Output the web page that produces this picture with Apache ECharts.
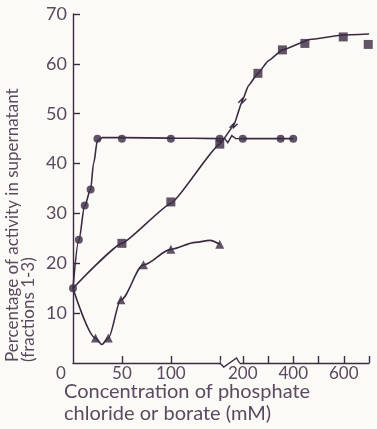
<!DOCTYPE html>
<html>
<head>
<meta charset="utf-8">
<script src="https://cdn.jsdelivr.net/npm/echarts@6/dist/echarts.min.js"></script>
<style>
  html, body { margin: 0; padding: 0; background: #fcfaf6; }
  #chart { width: 377px; height: 429px; }
</style>
</head>
<body>
<div id="chart"></div>
<script>
// values: concentration in mM, activity in %
const circleConc = [0, 6, 12, 18, 25, 50, 100, 150, 200, 350, 400];
const circlePct = [15, 24.7, 31.6, 34.8, 45, 45, 45, 45, 45, 45, 45];
const squareConc = [50, 100, 150, 260, 357, 446, 598, 697];
const squarePct = [24, 32.3, 43.9, 58.1, 62.8, 64.1, 65.4, 63.9];
const triangleConc = [23, 36, 49, 72, 100, 150];
const trianglePct = [5, 5, 12.7, 19.7, 22.8, 23.8];

// the hand drawn curves, traced (null = line broken at the axis break)
const circleCurveConc = [0, 6, 12, 18, 21, 25, 30, 50, 100, 150, 175, 200, 400];
const circleCurvePct = [15, 24.7, 31.6, 34.8, 40, 44.6, 45.2, 45.2, 45.1, 45, null, 45, 45];
const squareCurveConc = [0, 50, 100, 150, 180, 199, 222, 260, 301, 357, 466, 598, 700];
const squareCurvePct = [15, 24, 32, 43.9, 47.6, 52.6, 55.6, 58.1, 60.6, 62.8, 64.9, 65.8, 66];
const triangleCurveConc = [0, 23, 29.5, 36, 49, 72, 100, 125, 140, 150];
const triangleCurvePct = [15, 5, 3.7, 5, 12.7, 19.7, 22.8, 24.2, 24.6, 23.8];

const xTickValues = [50, 100, 150, 200, 300, 400, 500, 600, 700];
const xLabelValues = [0, 50, 100, 200, 400, 600];
const squareBreakConc = [180, 199];

const INK = "#3a2b42";
const TEXT = "#594a5f";
const BG = "#fcfaf6";
const FONT = "Lato";

// broken x scale: 0-150 linear, then 200-700 compressed
const LEFT_MAX = 150, RIGHT_MIN = 200, RIGHT_START = 173.5, RIGHT_SCALE = 0.258;
function toAxis(c) {
    if (c <= LEFT_MAX) return c;
    if (c >= RIGHT_MIN) return RIGHT_START + (c - RIGHT_MIN) * RIGHT_SCALE;
    return LEFT_MAX + (c - LEFT_MAX) / (RIGHT_MIN - LEFT_MAX) * (RIGHT_START - LEFT_MAX);
}
function fromAxis(u) {
    if (u <= LEFT_MAX) return u;
    if (u >= RIGHT_START) return RIGHT_MIN + (u - RIGHT_START) / RIGHT_SCALE;
    return LEFT_MAX + (u - LEFT_MAX) / (RIGHT_START - LEFT_MAX) * (RIGHT_MIN - LEFT_MAX);
}
function pairs(xs, ys) {
    return xs.map((x, i) => [toAxis(x), ys[i] == null ? "-" : ys[i]]);
}

const chartDom = document.getElementById("chart");
const myChart = echarts.init(chartDom);

const curve = (name, xs, ys, smooth) => ({
    name: name,
    type: "line",
    data: pairs(xs, ys),
    smooth: smooth,
    smoothMonotone: "x",
    showSymbol: false,
    connectNulls: false,
    lineStyle: { color: INK, width: 1.6 },
    z: 2,
});
const marks = (name, xs, ys, symbol, size) => ({
    name: name,
    type: "scatter",
    data: pairs(xs, ys),
    symbol: symbol,
    symbolSize: size,
    itemStyle: { color: INK },
    z: 3,
});

const option = {
    backgroundColor: BG,
    animation: false,
    grid: { left: 73, right: 8, top: 14, bottom: 66 },
    title: {
        text: "Concentration of phosphate\nchloride or borate (mM)",
        left: 64,
        top: 381,
        padding: 0,
        textStyle: { fontFamily: FONT, fontSize: 20, fontWeight: "normal", color: TEXT, lineHeight: 22 },
    },
    xAxis: {
        type: "value",
        min: 0,
        max: toAxis(700),
        axisLine: { lineStyle: { color: INK, width: 1.4 } },
        axisTick: {
            inside: true,
            length: 7,
            customValues: xTickValues.map(toAxis),
            lineStyle: { color: INK, width: 1.4 },
        },
        axisLabel: {
            customValues: xLabelValues.map(toAxis),
            formatter: (v) => {
                const c = Math.round(fromAxis(v));
                return c === 0 ? "{z|0}" : String(c);
            },
            margin: 2,
            fontFamily: FONT,
            fontSize: 17,
            color: TEXT,
            rich: { z: { fontFamily: FONT, fontSize: 17, color: TEXT, padding: [0, 24, 0, 0] } },
        },
        splitLine: { show: false },
    },
    yAxis: {
        type: "value",
        min: 0,
        max: 70,
        interval: 10,
        axisLine: { show: true, lineStyle: { color: INK, width: 1.4 } },
        axisTick: { show: true, inside: true, length: 7, lineStyle: { color: INK, width: 1.4 } },
        axisLabel: { showMinLabel: false, margin: 6, fontFamily: FONT, fontSize: 18, color: TEXT },
        splitLine: { show: false },
    },
    series: [
        curve("circle curve", circleCurveConc, circleCurvePct, 0.3),
        curve("square curve", squareCurveConc, squareCurvePct, 0.12),
        curve("triangle curve", triangleCurveConc, triangleCurvePct, 0.3),
        marks("circles", circleConc, circlePct, "circle", 8),
        marks("squares", squareConc, squarePct, "rect", 9),
        marks("triangles", triangleConc, trianglePct, "triangle", 9),
    ],
};

myChart.setOption(option);

// break marks, placed through the chart's own scales
const px = (c, v) => myChart.convertToPixel({ gridIndex: 0 }, [toAxis(c), v]);
const a = px(LEFT_MAX, 0);
const b = px(193, 0);
const c1 = px(LEFT_MAX, 45);
const c2 = px(RIGHT_MIN, 45);
const zig = (pts) => ({
    type: "polyline",
    z: 100,
    shape: { points: pts },
    style: { stroke: INK, lineWidth: 1.4, fill: null },
});
const graphics = [
    { type: "rect", z: 99, shape: { x: a[0] + 1, y: a[1] - 3, width: b[0] - a[0] - 1, height: 6 }, style: { fill: BG } },
    zig([[a[0], a[1]], [a[0] + 4, a[1] + 4], [b[0] - 3, b[1] - 5], [b[0], b[1]]]),
    zig([c1, [c1[0] + 5, c1[1]], [c1[0] + 8, c1[1] + 4], [c1[0] + 12, c1[1] - 3], [c1[0] + 16, c1[1]], c2]),
];
squareBreakConc.forEach((c) => {
    const i = squareCurveConc.indexOf(c);
    const p = px(c, squareCurvePct[i]);
    graphics.push(zig([[p[0] - 4, p[1] + 2], [p[0], p[1] - 2], [p[0], p[1] + 2], [p[0] + 4, p[1] - 2]]));
});
graphics.push({
    type: "text",
    z: 100,
    x: 5,
    y: 362,
    rotation: Math.PI / 2,
    style: {
        text: "Percentage of activity in supernatant\n(fractions 1-3)",
        font: "17px " + FONT,
        fill: TEXT,
        textAlign: "left",
        textVerticalAlign: "top",
        lineHeight: 16,
    },
});
myChart.setOption({ graphic: graphics });

window.addEventListener("resize", () => {
    myChart.resize();
});
</script>
</body>
</html>
